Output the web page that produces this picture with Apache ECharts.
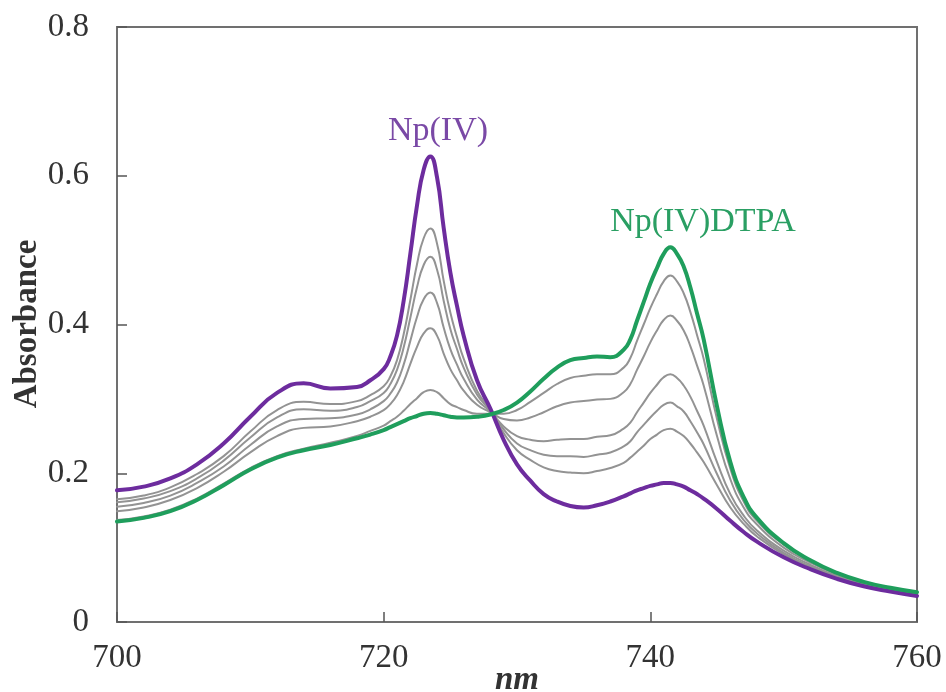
<!DOCTYPE html>
<html>
<head>
<meta charset="utf-8">
<script src="https://cdn.jsdelivr.net/npm/echarts/dist/echarts.min.js"></script>
<style>
html,body{margin:0;padding:0;background:#fff;}
#chart{width:946px;height:692px;}
</style>
</head>
<body>
<div id="chart"></div>
<script>
// Wavelength (nm)
const wavelengths = [700,702,704,706,708,710,712,714,716,718,
  719,720,
  720.5,721,721.5,722,722.5,723,723.5,724,724.5,725,725.5,726,
  727,728,729,730,731,732,733,734,735,736,737,738,
  738.5,739,739.5,740,740.5,741,741.5,742,742.5,743,743.5,744,
  745,746,747,748,
  750,752,754,756,758,760];

// Np(IV) (purple)
const npIV = [.177,.182,.193,.212,.240,.276,.308,.321,.314,.316,
  .325,.340,
  .357,.385,.432,.495,.560,.608,.626,.598,.530,.470,.425,.385,
  .325,.287,.245,.212,.190,.172,.162,.156,.154,.157,.162,.169,
  .173,.177,.180,.183,.185,.187,.187,.185,.182,.177,.172,.166,
  .152,.136,.121,.108,
  .087,.071,.058,.048,.041,.035];

// Np(IV)DTPA (green)
const npDTPA = [.135,.140,.149,.164,.184,.205,.221,.231,.238,.247,
  .252,.258,
  .262,.266,.270,.274,.277,.280,.281,.280,.278,.276,.275,.275,
  .276,.279,.285,.295,.310,.327,.342,.352,.355,.357,.356,.366,
  .380,.405,.430,.455,.476,.495,.504,.495,.478,.450,.415,.380,
  .290,.215,.168,.140,
  .106,.083,.066,.054,.046,.040];

// Intermediate spectra (grey)
const mix1 = [.165,.170,.181,.199,.223,.256,.285,.296,.293,.297,
  .305,.317,
  .330,.352,.387,.433,.481,.516,.529,.509,.459,.416,.383,.354,
  .311,.285,.254,.231,.218,.208,.203,.201,.200,.203,.207,.214,
  .221,.229,.237,.246,.252,.258,.260,.256,.250,.240,.228,.215,
  .184,.154,.132,.115,
  .091,.074,.060,.049,.042,.036];
const mix2 = [.161,.166,.176,.193,.217,.248,.275,.286,.284,.289,
  .297,.308,
  .320,.339,.369,.409,.450,.480,.491,.474,.432,.394,.367,.342,
  .306,.284,.259,.240,.231,.225,.223,.223,.222,.225,.228,.236,
  .243,.255,.265,.275,.284,.292,.295,.290,.283,.270,.255,.239,
  .199,.163,.137,.119,
  .093,.075,.061,.050,.043,.037];
const mix3 = [.155,.160,.170,.187,.209,.238,.263,.273,.274,.279,
  .286,.297,
  .307,.322,.346,.378,.410,.434,.443,.429,.396,.367,.346,.327,
  .299,.283,.263,.250,.245,.243,.245,.246,.246,.249,.251,.260,
  .268,.282,.295,.308,.319,.329,.333,.328,.318,.303,.284,.264,
  .215,.172,.143,.123,
  .096,.077,.062,.051,.043,.037];
const mix4 = [.149,.154,.164,.180,.202,.228,.250,.261,.263,.270,
  .276,.285,
  .293,.305,.323,.347,.370,.388,.395,.385,.361,.340,.325,.311,
  .292,.282,.273,.271,.275,.282,.290,.295,.297,.299,.300,.309,
  .320,.339,.357,.376,.392,.406,.412,.405,.392,.371,.345,.318,
  .250,.192,.154,.131,
  .100,.080,.064,.052,.045,.039];
const mix5 = [.137,.142,.151,.166,.186,.207,.223,.233,.241,.250,
  .257,.264,
  .270,.276,.284,.293,.301,.309,.312,.309,.301,.293,.289,.285,
  .280,.280,.280,.285,.296,.308,.320,.328,.331,.333,.333,.342,
  .355,.378,.400,.422,.441,.458,.466,.458,.442,.417,.386,.354,
  .273,.206,.162,.136,
  .104,.082,.065,.053,.045,.039];

const xTicks = [700, 720, 740, 760];
const yTicks = [0, 0.2, 0.4, 0.6, 0.8];

const FONT = '"Liberation Serif", "Times New Roman", serif';
const PURPLE = '#6d2c9e';
const GREEN = '#1f9e5c';
const GREY = '#939393';

function pairs(arr){ return wavelengths.map((w,i)=>[w, arr[i]]); }

function lineSeries(name, arr, color, width, z){
  return {
    name, type:'line', data: pairs(arr), showSymbol:false, symbol:'none',
    smooth:0.5, z,
    lineStyle:{color, width, cap:'round', join:'round'}, emphasis:{disabled:true}
  };
}

const chart = echarts.init(document.getElementById('chart'), null, {renderer:'canvas'});
chart.setOption({
  animation:false,
  backgroundColor:'#fff',
  grid:{left:117, right:29, top:27, bottom:70, show:true, borderColor:'#707070', borderWidth:2},
  xAxis:{
    type:'value', min:xTicks[0], max:xTicks[xTicks.length-1], interval:20,
    axisLine:{show:true, lineStyle:{color:'#707070', width:2}},
    axisTick:{show:true, inside:true, length:10, lineStyle:{color:'#555', width:1.5}},
    axisLabel:{fontFamily:FONT, fontSize:33, color:'#333', margin:20,
      formatter:v=>xTicks.includes(v)?String(v):''},
    splitLine:{show:false}
  },
  yAxis:{
    type:'value', min:yTicks[0], max:yTicks[yTicks.length-1], interval:0.2,
    axisLine:{show:true, lineStyle:{color:'#707070', width:2}},
    axisTick:{show:true, inside:true, length:10, lineStyle:{color:'#555', width:1.5}},
    axisLabel:{fontFamily:FONT, fontSize:33, color:'#333', margin:28,
      formatter:v=>{const t=yTicks.find(k=>Math.abs(k-v)<1e-9); return t===undefined?'':String(t);}},
    splitLine:{show:false}
  },
  series:[
    lineSeries('mix1', mix1, GREY, 2, 2),
    lineSeries('mix2', mix2, GREY, 2, 2),
    lineSeries('mix3', mix3, GREY, 2, 2),
    lineSeries('mix4', mix4, GREY, 2, 2),
    lineSeries('mix5', mix5, GREY, 2, 2),
    lineSeries('Np(IV)', npIV, PURPLE, 4, 3),
    lineSeries('Np(IV)DTPA', npDTPA, GREEN, 4, 4)
  ],
  graphic:[
    {type:'text', x:27, y:324, rotation:Math.PI/2,
     style:{text:'Absorbance', fontFamily:FONT, fontSize:33, fontWeight:'bold', fill:'#333', align:'center', verticalAlign:'middle'}},
    {type:'text', x:517, y:680,
     style:{text:'nm', fontFamily:FONT, fontSize:33, fontWeight:'bold', fontStyle:'italic', fill:'#333', align:'center', verticalAlign:'middle'}},
    {type:'text', x:438, y:131,
     style:{text:'Np(IV)', fontFamily:FONT, fontSize:34, fill:'#7a49a6', align:'center', verticalAlign:'middle'}},
    {type:'text', x:703, y:222,
     style:{text:'Np(IV)DTPA', fontFamily:FONT, fontSize:34, fill:'#2a9f63', align:'center', verticalAlign:'middle'}}
  ]
});
</script>
</body>
</html>
